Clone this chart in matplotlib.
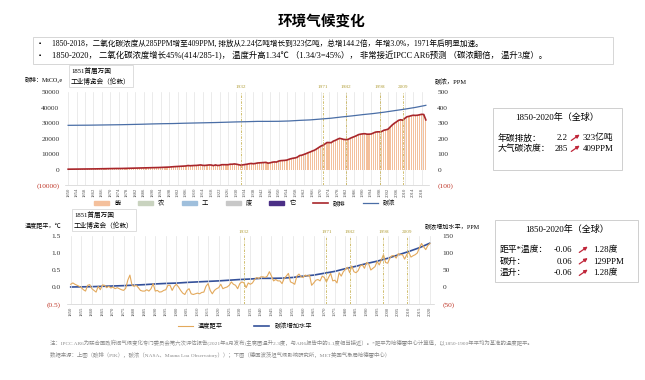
import matplotlib
matplotlib.use('Agg')
import matplotlib.pyplot as plt
import matplotlib.transforms as mtransforms
from matplotlib.patches import Rectangle, Patch
import numpy as np

plt.rcParams['font.family'] = ['Liberation Serif', 'Noto Sans CJK SC', 'DejaVu Sans']

# ---- data ----
years = np.arange(1850, 2021)

# total emissions, MtCO2e (1850..2020)
emis = [200, 210, 230, 250, 260, 270, 290, 300, 300, 320,
        350, 370, 380, 400, 430, 450, 460, 490, 500, 530,
        550, 580, 620, 660, 640, 660, 680, 700, 710, 750,
        830, 870, 920, 970, 980, 990, 1000, 1050, 1120, 1130,
        1220, 1280, 1290, 1280, 1300, 1390, 1440, 1510, 1570, 1700,
        1800, 1870, 1900, 2050, 2080, 2200, 2300, 2560, 2420, 2520,
        2600, 2630, 2760, 2950, 2670, 2620, 2800, 2940, 2900, 2500,
        2950, 2600, 2700, 3100, 3100, 3150, 3100, 3400, 3400, 3600,
        3400, 3100, 2800, 3000, 3200, 3400, 3700, 3900, 3700, 3900,
        4200, 4300, 4400, 4500, 4600, 4100, 4300, 4700, 4900, 4800,
        5400, 5700, 5800, 5900, 6100, 6600, 7000, 7300, 7500, 8000,
        9000, 9200, 9700, 10200, 10800, 11300, 11900, 12400, 13200, 14100,
        15000, 15600, 16400, 17400, 17400, 17300, 18300, 18800, 19500, 20100,
        19800, 19400, 19300, 19400, 20100, 20700, 21200, 21800, 22500, 22800,
        23000, 23100, 22800, 22800, 22900, 23500, 24100, 24300, 24300, 24500,
        25300, 25600, 26000, 27400, 28700, 29800, 30700, 31700, 32100, 31800,
        33000, 34000, 34300, 34700, 35000, 34900, 35000, 35300, 35600, 35500,
        32000]

co2_years = np.arange(1850, 2021, 5)
co2 = [285, 285.5, 286, 287, 288, 289, 290.5, 292, 294, 295.5,
       296.5, 298.5, 300, 301.5, 303, 305, 307, 308.5, 310.5, 310.5,
       311, 313, 317, 320, 325.5, 331, 339, 346, 354, 361,
       369.5, 379.5, 389.5, 400.5, 414]
co2_base = 285

# temperature anomaly, degC (1850..2020)
temp = [0.08, 0.12, 0.08, 0.05, 0.02, -0.02, -0.08, -0.12, 0.05, 0.07,
        -0.05, -0.10, -0.15, 0.02, -0.08, 0.06, 0.05, -0.02, 0.02, -0.03,
        0.00, -0.05, -0.02, -0.05, -0.08, -0.10, -0.04, 0.20, 0.35, 0.05,
        0.02, 0.05, -0.02, -0.10, -0.12, -0.12, -0.08, -0.12, -0.05, 0.10,
        -0.12, -0.10, -0.15, -0.14, -0.10, -0.08, 0.05, 0.05, -0.10, 0.02,
        0.08, 0.00, -0.10, -0.18, -0.22, -0.10, -0.05, -0.20, -0.22, -0.20,
        -0.18, -0.20, -0.16, -0.15, 0.02, 0.10, -0.10, -0.20, -0.10, -0.05,
        -0.02, 0.08, -0.05, -0.02, 0.00, 0.05, 0.15, 0.08, 0.05, -0.05,
        0.10, 0.15, 0.12, -0.02, 0.12, 0.08, 0.12, 0.22, 0.28, 0.25,
        0.30, 0.30, 0.28, 0.32, 0.45, 0.32, 0.18, 0.22, 0.18, 0.18,
        0.10, 0.25, 0.32, 0.40, 0.15, 0.12, 0.08, 0.32, 0.38, 0.30,
        0.28, 0.35, 0.32, 0.35, 0.05, 0.12, 0.20, 0.22, 0.18, 0.32,
        0.28, 0.15, 0.28, 0.40, 0.18, 0.20, 0.12, 0.42, 0.32, 0.45,
        0.52, 0.58, 0.42, 0.62, 0.45, 0.42, 0.48, 0.62, 0.65, 0.55,
        0.72, 0.68, 0.50, 0.55, 0.60, 0.75, 0.65, 0.80, 0.95, 0.72,
        0.70, 0.85, 0.92, 0.92, 0.85, 0.98, 0.95, 0.95, 0.82, 0.95,
        1.02, 0.88, 0.92, 0.95, 1.00, 1.15, 1.28, 1.18, 1.10, 1.22,
        1.28]

events = [1932, 1971, 1982, 1998, 2009]
sectors = ['能', '农', '工', '废', '它']
sector_colors = ['#f4c09c', '#c9d3bf', '#9fbfdc', '#c8c8c8', '#4b2f86']

W, H = 645, 380
fig = plt.figure(figsize=(6.45, 3.8), dpi=100)


def fx(x):
    return x / W


def fy(y):
    return 1 - y / H


def ftext(x, y, s, **kw):
    fig.text(fx(x), fy(y), s, **kw)


RED = '#c0392b'
GRID = '#e3e3e3'
EVT = '#c9b458'
TICK = '#555555'

# ---- title + bullets ----
ftext(322, 22, '环境气候变化', ha='center', va='center', fontsize=10.5, fontweight='bold')
fig.add_artist(Rectangle((fx(33), fy(64)), fx(580), 27 / H, transform=fig.transFigure,
                         fill=False, ec='#d0d0d0', lw=0.6))
bullets = ['1850-2018，二氧化碳浓度从285PPM增至409PPM, 排放从2.24亿吨增长到323亿吨，总增144.2倍，年增3.0%，1971年后明显加速。',
           '1850-2020， 二氧化碳浓度增长45%(414/285-1)， 温度升高1.34℃ （1.34/3=45%）， 非常接近IPCC AR6预测 （碳浓翻倍， 温升3度）。']
bullet_sizes = [5.5, 6.0]
for i, b in enumerate(bullets):
    ftext(39, 44 + i * 12, '▪', ha='left', va='center', fontsize=4.5)
    ftext(52, 44 + i * 12, b, ha='left', va='center', fontsize=bullet_sizes[i])


def style_axes(ax, axr, xticks, xlim):
    ax.set_xlim(*xlim)
    ax.set_xticks(xticks)
    ax.set_xticklabels([str(t) for t in xticks], rotation=90, fontsize=3.4, color=TICK)
    ax.tick_params(axis='x', length=0, pad=2)
    ax.tick_params(axis='y', length=0, labelsize=5.3, colors='#333333', pad=4)
    axr.tick_params(axis='y', length=0, labelsize=5.3, colors='#333333', pad=6)
    ax.grid(axis='x', color=GRID, lw=0.5)
    ax.set_axisbelow(True)
    for a in (ax, axr):
        for s in a.spines.values():
            s.set_visible(False)
    ax.spines['bottom'].set_visible(True)
    ax.spines['bottom'].set_color('#d0d0d0')
    ax.spines['bottom'].set_linewidth(0.5)
    trans = mtransforms.blended_transform_factory(ax.transData, ax.transAxes)
    for yr in events:
        ax.axvline(yr, color=EVT, lw=0.6, ls=(0, (3, 1.5, 1, 1.5)), zorder=4)
        ax.text(yr, 1.03, str(yr), transform=trans, ha='center', va='bottom',
                fontsize=3.8, color='#b3a03c')


def set_yticks(a, ticks, fmt):
    a.set_yticks(ticks)
    labels = [('(' + fmt.format(abs(t)) + ')') if t < 0 else fmt.format(t) for t in ticks]
    a.set_yticklabels(labels)
    for t, lab in zip(ticks, a.get_yticklabels()):
        if t < 0:
            lab.set_color(RED)


# ---- top chart ----
ax1 = fig.add_axes([fx(65), fy(185), fx(364), 93 / H])
ax1r = ax1.twinx()
ax1.bar(years, emis, width=0.55, color=sector_colors[0], zorder=2)
line_emis, = ax1.plot(years, emis, color='#a8262b', lw=1.2, zorder=3)
line_co2, = ax1r.plot(co2_years, co2, color='#4a6ea6', lw=0.9)
ax1.set_ylim(-10000, 50000)
ax1r.set_ylim(-100, 500)
style_axes(ax1, ax1r, list(range(1850, 2021, 4)), (1848.5, 2021.5))
set_yticks(ax1, list(range(-10000, 50001, 10000)), '{:.0f}')
set_yticks(ax1r, list(range(-100, 501, 100)), '{:.0f}')

handles = [Patch(color=c) for c in sector_colors] + [line_emis, line_co2]
labels = sectors + ['碳排', '碳浓']
fig.legend(handles, labels, loc='center', bbox_to_anchor=(fx(245), fy(203)), ncol=7,
           frameon=False, fontsize=4.5, handlelength=2.4, handleheight=0.45, columnspacing=2.8)

ftext(25, 80, '碳排：MtCO₂e', ha='left', va='center', fontsize=4.3)
ftext(435, 82, '碳浓，PPM', ha='left', va='center', fontsize=4.6)
ftext(71, 76, '1851首届万国\n工业博览会（伦敦）', ha='left', va='center', fontsize=4.8,
      linespacing=1.6, bbox=dict(boxstyle='square,pad=0.3', fc='white', ec='#d0d0d0', lw=0.5))

# ---- bottom chart ----
co2_rise = [v - co2_base for v in co2]
ax2 = fig.add_axes([fx(66.5), fy(304), fx(367.7), 68 / H])
ax2r = ax2.twinx()
line_t, = ax2.plot(years, temp, color='#e3a95c', lw=0.8, zorder=3)
line_r, = ax2r.plot(co2_years, co2_rise, color='#34519a', lw=1.2)
ax2.set_ylim(-0.5, 1.5)
ax2r.set_ylim(-50, 150)
style_axes(ax2, ax2r, list(range(1850, 2021, 5)), (1848, 2022))
set_yticks(ax2, [-0.5, 0.0, 0.5, 1.0, 1.5], '{:.1f}')
set_yticks(ax2r, [-50, 0, 50, 100, 150], '{:.0f}')
ax2.set_zorder(ax2r.get_zorder() + 1)
ax2.patch.set_visible(False)

fig.legend([line_t, line_r], ['温度距平', '碳浓增加水平'], loc='center',
           bbox_to_anchor=(fx(245), fy(326)), ncol=2, frameon=False, fontsize=4.5,
           handlelength=2.4, columnspacing=5)

ftext(25, 225, '温度距平，℃', ha='left', va='center', fontsize=4.4)
ftext(425, 227, '碳浓增加水平，PPM', ha='left', va='center', fontsize=4.4)
ftext(74, 220, '1851首届万国\n工业博览会（伦敦）', ha='left', va='center', fontsize=4.8,
      linespacing=1.6, bbox=dict(boxstyle='square,pad=0.3', fc='white', ec='#d0d0d0', lw=0.5))


# ---- summary boxes ----
def arrow(x0, y0, x1, y1):
    fig.add_artist(matplotlib.patches.FancyArrowPatch(
        (fx(x0), fy(y0)), (fx(x1), fy(y1)), transform=fig.transFigure,
        arrowstyle='-|>', mutation_scale=5, color='#c0263a', lw=0.9))


fig.add_artist(Rectangle((fx(493), fy(170)), fx(129), 62 / H, transform=fig.transFigure,
                         fill=False, ec='#c8c8c8', lw=0.6))
ftext(557, 117, '1850-2020年（全球）', ha='center', va='center', fontsize=6.5)
rows1 = [('年碳排放：', '2.2', '323亿吨'), ('大气碳浓度：', '285', '409PPM')]
for i, (a, b, c) in enumerate(rows1):
    y = 138 + i * 11
    ftext(498, y, a, ha='left', va='center', fontsize=6.3)
    ftext(568, y, b, ha='right', va='center', fontsize=6.3)
    arrow(569, y + 4, 582, y - 5)
    ftext(583, y, c, ha='left', va='center', fontsize=6.3)

fig.add_artist(Rectangle((fx(495), fy(282)), fx(143), 62 / H, transform=fig.transFigure,
                         fill=False, ec='#c8c8c8', lw=0.6))
ftext(567, 229, '1850-2020年（全球）', ha='center', va='center', fontsize=6.5)
rows2 = [('距平*温度：', '-0.06', '1.28度'), ('碳升：', '0.06', '129PPM'), ('温升：', '-0.06', '1.28度')]
for i, (a, b, c) in enumerate(rows2):
    y = 250 + i * 11.5
    ftext(500, y, a, ha='left', va='center', fontsize=6.3)
    ftext(572, y, b, ha='right', va='center', fontsize=6.3)
    arrow(577, y + 4, 590, y - 5)
    ftext(593, y, c, ha='left', va='center', fontsize=6.3)

# ---- footnote ----
notes = ['注：IPCC AR6为联合国政府间气候变化专门委员会第六次评估报告(2021年8月发布)主席团温升2.3度，与AR6报告中的1.1度相当接近）。*距平为哈德雷中心计算值，以1850-1900年平均为基准的温度距平。',
         '数据来源：上图（碳排（PIK），碳浓（NASA、Mauna Loa Observatory））；下图（德国波茨坦气候影响研究所，MET英国气象局哈德雷中心）']
for i, n in enumerate(notes):
    ftext(50, 343 + i * 12, n, ha='left', va='center', fontsize=3.9, color='#8a8a8a')

fig.savefig('out.png', dpi=100)
